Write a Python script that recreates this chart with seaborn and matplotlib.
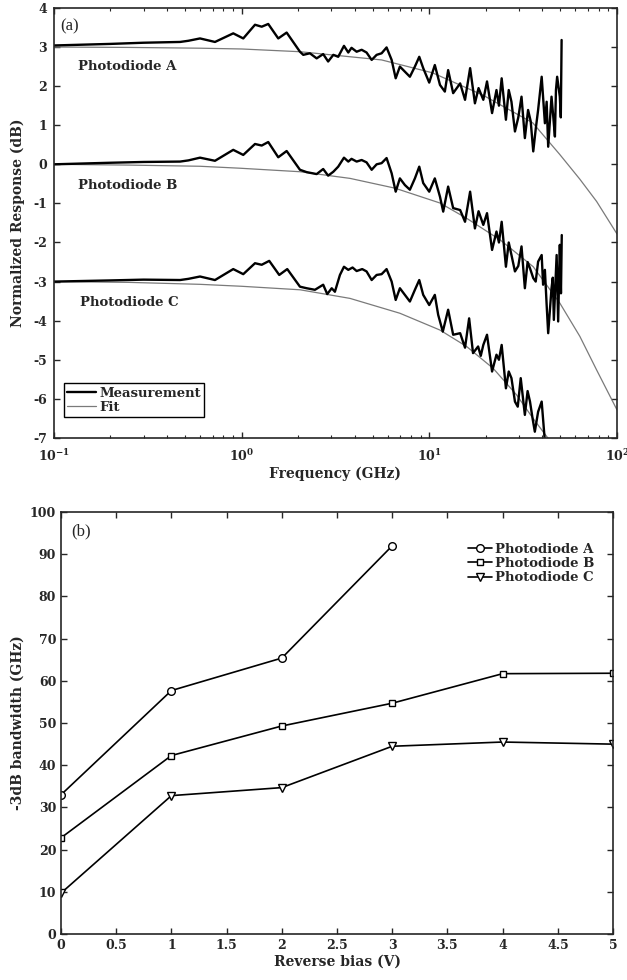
import matplotlib
matplotlib.use("Agg")
import matplotlib.pyplot as plt
from matplotlib.ticker import MultipleLocator, FuncFormatter
import pandas as pd
import seaborn as sns

# ---- (a) frequency response ----
freq_meas_a = [0.1, 0.2, 0.3, 0.47, 0.52, 0.60, 0.721, 0.902, 1.02, 1.178, 1.279, 1.386, 1.567, 1.737,
               2.045, 2.13, 2.31, 2.51, 2.72, 2.89, 3.08, 3.27, 3.51, 3.70, 3.85, 4.10, 4.36, 4.63, 4.93,
               5.24, 5.57, 5.92, 6.30, 6.62, 6.97, 7.41, 7.88, 8.38, 8.84, 9.28, 9.99, 10.7, 11.4, 12.1,
               12.6, 13.4, 14.6, 15.5, 16.5, 17.5, 18.3, 19.4, 20.3, 21.6, 22.8, 23.5, 24.3, 25.6, 26.5,
               27.4, 28.6, 29.8, 31.0, 32.3, 33.6, 34.7, 35.8, 36.9, 38.0, 39.7, 41.3, 42.2, 43.0, 44.8,
               45.8, 46.7, 47.3, 48.0, 49.6, 50.2, 50.7]
resp_meas_a = [3.04, 3.08, 3.11, 3.13, 3.16, 3.22, 3.13, 3.35, 3.22, 3.57, 3.52, 3.59, 3.22, 3.37,
               2.88, 2.80, 2.84, 2.71, 2.82, 2.63, 2.80, 2.75, 3.03, 2.86, 2.98, 2.88, 2.93, 2.86, 2.67,
               2.80, 2.84, 2.99, 2.67, 2.20, 2.50, 2.37, 2.24, 2.50, 2.75, 2.46, 2.09, 2.54, 2.03, 1.86,
               2.41, 1.82, 2.07, 1.65, 2.46, 1.56, 1.95, 1.65, 2.12, 1.31, 1.90, 1.50, 2.20, 1.14, 1.90,
               1.60, 0.84, 1.20, 1.73, 0.67, 1.39, 1.10, 0.33, 0.90, 1.39, 2.24, 1.05, 1.60, 0.45, 1.73,
               1.20, 0.71, 1.90, 2.24, 1.73, 1.20, 3.18]

freq_meas_b = [0.1, 0.2, 0.3, 0.47, 0.52, 0.60, 0.721, 0.902, 1.02, 1.178, 1.279, 1.386, 1.567, 1.737,
               2.045, 2.22, 2.51, 2.72, 2.89, 3.08, 3.27, 3.51, 3.70, 3.85, 4.10, 4.36, 4.63, 4.93,
               5.24, 5.57, 5.92, 6.30, 6.62, 6.97, 7.41, 7.88, 8.38, 8.84, 9.28, 9.99, 10.7, 11.4, 11.86,
               12.6, 13.4, 14.6, 15.5, 16.5, 17.5, 18.3, 19.4, 20.3, 21.6, 22.8, 23.5, 24.3, 25.6, 26.5,
               27.4, 28.6, 29.8, 31.0, 32.3, 33.4, 34.4, 35.8, 36.9, 38.0, 39.7, 40.4, 41.3, 42.2, 43.0,
               44.8, 45.5, 46.1, 47.7, 48.6, 49.6, 50.3, 50.8]
resp_meas_b = [0.00, 0.04, 0.06, 0.07, 0.10, 0.17, 0.09, 0.37, 0.24, 0.52, 0.48, 0.57, 0.18, 0.34,
               -0.14, -0.20, -0.25, -0.12, -0.29, -0.19, -0.06, 0.17, 0.07, 0.14, 0.07, 0.11, 0.05, -0.14,
               0.00, 0.03, 0.16, -0.23, -0.70, -0.36, -0.53, -0.65, -0.36, -0.06, -0.48, -0.70, -0.36, -0.83,
               -1.21, -0.57, -1.12, -1.17, -1.47, -0.70, -1.64, -1.20, -1.55, -1.25, -2.19, -1.72, -2.00,
               -1.47, -2.62, -2.00, -2.32, -2.74, -2.60, -2.10, -3.17, -2.50, -2.66, -2.91, -3.00, -2.49,
               -2.32, -3.08, -2.70, -3.60, -4.32, -3.17, -2.90, -3.98, -2.32, -4.02, -2.06, -3.30, -1.81]

freq_meas_c = [0.1, 0.2, 0.3, 0.47, 0.52, 0.60, 0.721, 0.902, 1.02, 1.178, 1.279, 1.403, 1.586, 1.75,
               2.045, 2.22, 2.458, 2.72, 2.858, 3.02, 3.14, 3.34, 3.51, 3.70, 3.90, 4.10, 4.39, 4.63, 4.93,
               5.24, 5.57, 5.92, 6.30, 6.62, 6.97, 7.41, 7.88, 8.38, 8.84, 9.28, 9.99, 10.7, 11.15, 11.8,
               12.6, 13.4, 14.6, 15.5, 16.3, 17.1, 18.2, 18.8, 19.4, 20.3, 21.6, 22.8, 23.5, 24.3, 25.6,
               26.5, 27.4, 28.6, 29.6, 30.7, 32.3, 33.4, 34.4, 35.5, 36.5, 38.0, 39.7, 41.3, 43.0]
resp_meas_c = [-3.00, -2.97, -2.95, -2.96, -2.93, -2.87, -2.96, -2.68, -2.81, -2.53, -2.57, -2.47, -2.83, -2.68,
               -3.13, -3.17, -3.21, -3.08, -3.32, -3.17, -3.26, -2.83, -2.62, -2.70, -2.64, -2.73, -2.68, -2.74,
               -2.96, -2.83, -2.81, -2.68, -3.00, -3.47, -3.17, -3.34, -3.51, -3.21, -2.96, -3.34, -3.60, -3.34,
               -3.85, -4.28, -3.72, -4.36, -4.32, -4.69, -3.94, -4.83, -4.66, -4.90, -4.62, -4.36, -5.30,
               -4.87, -5.00, -4.62, -5.73, -5.30, -5.47, -6.07, -6.20, -5.47, -6.41, -5.80, -6.07, -6.50,
               -6.84, -6.33, -6.07, -7.10, -7.30]

freq_fit_a = [0.1, 0.25, 0.6, 1.0, 2.05, 5.57, 10.4, 19.3, 35.6, 49.6, 63.4, 77.9, 100.0]
resp_fit_a = [3.00, 2.99, 2.97, 2.95, 2.88, 2.67, 2.34, 1.77, 1.06, 0.25, -0.38, -0.95, -1.78]

freq_fit_b = [0.1, 0.25, 0.6, 0.98, 2.05, 3.78, 6.56, 11.4, 15.8, 23.8, 35.8, 49.6, 63.4, 77.9, 100.0]
resp_fit_b = [0.00, -0.02, -0.05, -0.10, -0.19, -0.36, -0.61, -0.99, -1.38, -1.93, -2.62, -3.55, -4.40, -5.26, -6.28]

freq_fit_c = [0.1, 0.25, 0.6, 1.0, 2.05, 3.78, 6.97, 11.4, 15.8, 21.9, 29.2, 35.6, 42.8, 48.0]
resp_fit_c = [-3.00, -3.02, -3.07, -3.12, -3.21, -3.43, -3.81, -4.24, -4.66, -5.22, -5.90, -6.49, -7.00, -7.40]

# ---- (b) bandwidth vs bias ----
bias_a = [0, 1, 2, 3]
bw_a = [33.0, 57.7, 65.4, 92.0]
bias_b = [0, 1, 2, 3, 4, 5]
bw_b = [22.8, 42.3, 49.3, 54.7, 61.7, 61.8]
bias_c = [0, 1, 2, 3, 4, 5]
bw_c = [9.7, 32.8, 34.7, 44.5, 45.5, 45.0]

sns.set_style("ticks")
plt.rcParams["font.family"] = ["DejaVu Serif"]
plt.rcParams["font.weight"] = "bold"
plt.rcParams["axes.labelweight"] = "bold"
plt.rcParams["axes.unicode_minus"] = False
plt.rcParams["mathtext.fontset"] = "dejavuserif"
plt.rcParams["mathtext.default"] = "bf"
plt.rcParams["axes.linewidth"] = 1.2

fig = plt.figure(figsize=(6.27, 9.8), dpi=100)
ax1 = fig.add_axes([0.0861, 0.5531, 0.8979, 0.4388])
ax2 = fig.add_axes([0.0973, 0.0469, 0.8804, 0.4306])

ax1.set_xscale("log")
meas = [(freq_meas_a, resp_meas_a), (freq_meas_b, resp_meas_b), (freq_meas_c, resp_meas_c)]
fits = [(freq_fit_a, resp_fit_a), (freq_fit_b, resp_fit_b), (freq_fit_c, resp_fit_c)]
for i, (f, r) in enumerate(fits):
    sns.lineplot(x=f, y=r, ax=ax1, color="#7a7a7a", lw=0.9, estimator=None, sort=False,
                 label="Fit" if i == 0 else None, legend=False)
for i, (f, r) in enumerate(meas):
    sns.lineplot(x=f, y=r, ax=ax1, color="black", lw=1.7, estimator=None, sort=False,
                 label="Measurement" if i == 0 else None, legend=False)

ax1.set_xlim(0.1, 100)
ax1.set_ylim(-7, 4)
ax1.yaxis.set_major_locator(MultipleLocator(1))
ax1.set_xlabel("Frequency (GHz)", fontsize=10, labelpad=2)
ax1.set_ylabel("Normalized Response (dB)", fontsize=10, labelpad=6)
ax1.text(0.134, 2.49, "Photodiode A", fontsize=9.5, fontweight="bold", va="center")
ax1.text(0.134, -0.53, "Photodiode B", fontsize=9.5, fontweight="bold", va="center")
ax1.text(0.137, -3.54, "Photodiode C", fontsize=9.5, fontweight="bold", va="center")
ax1.text(0.012, 0.975, "(a)", transform=ax1.transAxes, fontsize=12, fontweight="normal",
         family="Liberation Serif", va="top", ha="left",
         bbox=dict(facecolor="white", edgecolor="none", pad=1))
h, l = ax1.get_legend_handles_labels()
order = [l.index("Measurement"), l.index("Fit")]
leg1 = ax1.legend([h[k] for k in order], [l[k] for k in order], loc="lower left",
                  bbox_to_anchor=(0.018, 0.048), fontsize=9.5, frameon=True, fancybox=False,
                  edgecolor="black", framealpha=1, borderpad=0.25, labelspacing=0.1,
                  handlelength=2.2, handletextpad=0.2, borderaxespad=0)
leg1.get_frame().set_linewidth(1.0)

# ---- (b) ----
series = [(bias_a, bw_a, "o", "Photodiode A"), (bias_b, bw_b, "s", "Photodiode B"),
          (bias_c, bw_c, "v", "Photodiode C")]
for x, y, m, name in series:
    sns.lineplot(x=x, y=y, ax=ax2, color="black", lw=1.2, marker=m, markersize=5.5 if m != "s" else 4.5,
                 markerfacecolor="white", markeredgecolor="black", markeredgewidth=1.0,
                 label=name, legend=False, estimator=None, sort=False)
ax2.set_xlim(0, 5)
ax2.set_ylim(0, 100)
ax2.xaxis.set_major_locator(MultipleLocator(0.5))
ax2.yaxis.set_major_locator(MultipleLocator(10))
ax2.xaxis.set_major_formatter(FuncFormatter(lambda v, p: "%g" % v))
ax2.set_xlabel("Reverse bias (V)", fontsize=10, labelpad=2)
ax2.set_ylabel("-3dB bandwidth (GHz)", fontsize=10, labelpad=4)
ax2.text(0.018, 0.972, "(b)", transform=ax2.transAxes, fontsize=12, fontweight="normal",
         family="Liberation Serif", va="top", ha="left",
         bbox=dict(facecolor="white", edgecolor="none", pad=1))
ax2.legend(loc="upper right", bbox_to_anchor=(0.975, 0.94), frameon=False, fontsize=9.5,
           labelspacing=0.1, handlelength=1.8, handletextpad=0.2, borderaxespad=0)

for ax in (ax1, ax2):
    ax.tick_params(which="both", direction="in", top=True, right=True, labelsize=9)
    ax.tick_params(which="major", length=4, width=1)
    ax.tick_params(which="minor", length=2.5, width=0.8)
    for lab in ax.get_xticklabels() + ax.get_yticklabels():
        lab.set_fontweight("bold")
ax1.tick_params(axis="x", which="major", pad=7)
ax1.tick_params(axis="y", which="major", pad=5)

fig.savefig("out.png", dpi=100, facecolor="white")
